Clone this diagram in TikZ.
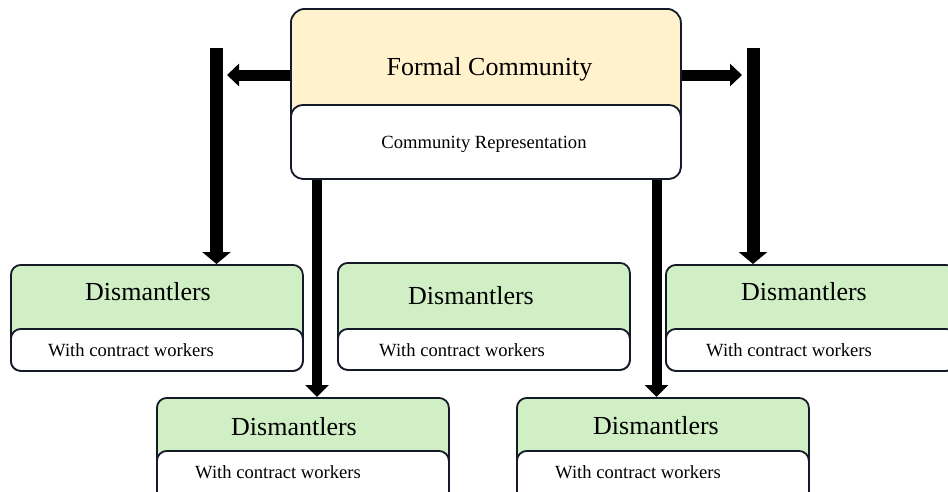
\documentclass[tikz,border=0pt]{standalone}
\usepackage{fontspec}
\setmainfont{Liberation Serif}
\usetikzlibrary{arrows.meta}
\definecolor{bord}{HTML}{141A28}
\definecolor{yel}{HTML}{FFF2CC}
\definecolor{grn}{HTML}{D0EFC4}
\begin{document}
\begin{tikzpicture}[x=1pt,y=-1pt,
  box/.style={draw=bord, line width=1.8pt, rounded corners=10pt, anchor=north west, inner sep=0pt},
  greenbox/.style={box, fill=grn},
  whitebox/.style={box, fill=white},
  yelbox/.style={box, fill=yel, rounded corners=14pt},
  bigtxt/.style={font=\fontsize{26}{30}\selectfont, inner sep=0pt, anchor=base},
  smalltxt/.style={font=\fontsize{18.6}{22}\selectfont, inner sep=0pt, anchor=base},
  fatv/.style={line width=13pt, draw=black, -{Triangle[width=28pt,length=12pt]}},
  fath/.style={line width=11pt, draw=black, -{Triangle[width=22pt,length=12pt]}},
  fatm/.style={line width=10pt, draw=black, -{Triangle[width=23pt,length=12pt]}}
]
\useasboundingbox (0,0) rectangle (948,491);
% top box
\node[yelbox, minimum width=390pt, minimum height=170pt] (fc) at (290,8) {};
\node[whitebox, rounded corners=12pt, minimum width=390pt, minimum height=74pt] (fcr) at (290,104) {};
\node[bigtxt] (fct) at (489.5,75) {Formal Community};
\node[smalltxt] (fcrt) at (484,148) {Community Representation};
% dismantler boxes
\node[greenbox, minimum width=292pt, minimum height=106pt] (d1) at (10,264) {};
\node[whitebox, minimum width=292pt, minimum height=42pt] (d1w) at (10,328) {};
\node[greenbox, minimum width=292pt, minimum height=107pt] (d2) at (337,262) {};
\node[whitebox, minimum width=292pt, minimum height=41pt] (d2w) at (337,328) {};
\node[greenbox, minimum width=290pt, minimum height=106pt] (d3) at (665,264) {};
\node[whitebox, minimum width=290pt, minimum height=42pt] (d3w) at (665,328) {};
\node[greenbox, minimum width=292pt, minimum height=110pt] (d4) at (156,397) {};
\node[whitebox, minimum width=292pt, minimum height=57pt] (d4w) at (156,450) {};
\node[greenbox, minimum width=292pt, minimum height=110pt] (d5) at (516,397) {};
\node[whitebox, minimum width=292pt, minimum height=57pt] (d5w) at (516,450) {};
% texts
\node[bigtxt] (d1t) at (148,300) {Dismantlers};
\node[smalltxt] (d1s) at (131,356) {With contract workers};
\node[bigtxt] (d2t) at (471,304) {Dismantlers};
\node[smalltxt] (d2s) at (462,356) {With contract workers};
\node[bigtxt] (d3t) at (804,300) {Dismantlers};
\node[smalltxt] (d3s) at (789,356) {With contract workers};
\node[bigtxt] (d4t) at (294,435) {Dismantlers};
\node[smalltxt] (d4s) at (278,478) {With contract workers};
\node[bigtxt] (d5t) at (656,434) {Dismantlers};
\node[smalltxt] (d5s) at (638,478) {With contract workers};
% connectors
\coordinate (ltop) at (216.5,48);
\coordinate (ltip) at (227,75);
\coordinate (rtop) at (753,48);
\coordinate (rtip) at (742,75);
\coordinate (mlx) at (317,0);
\coordinate (mrx) at (656.5,0);
\draw[fath] (fc.west |- ltip) -- (ltip);
\draw[fath] (fc.east |- rtip) -- (rtip);
\draw[fatv] (ltop) -- (ltop |- d1.north);
\draw[fatv] (rtop) -- (rtop |- d3.north);
\draw[fatm] (fcr.south -| mlx) -- (d4.north -| mlx);
\draw[fatm] (fcr.south -| mrx) -- (d5.north -| mrx);
\end{tikzpicture}
\end{document}
